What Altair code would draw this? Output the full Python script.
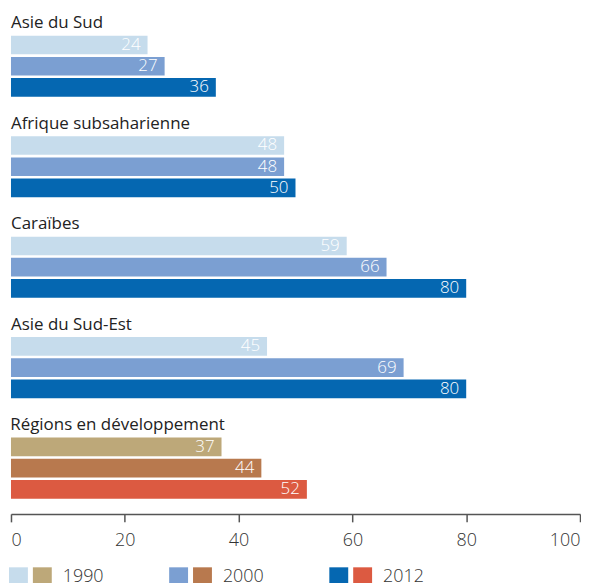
import altair as alt
import pandas as pd

groups = ["Asie du Sud", "Afrique subsaharienne", "Caraïbes", "Asie du Sud-Est", "Régions en développement"]
years = ["1990", "2000", "2012"]
v1990 = [24, 48, 59, 45, 37]
v2000 = [27, 48, 66, 69, 44]
v2012 = [36, 50, 80, 80, 52]
blue_colors = ["#c6dcec", "#7b9fd2", "#0567b1"]
brown_colors = ["#bda879", "#b8794e", "#dc5a41"]
x_ticks = [0, 20, 40, 60, 80, 100]

FONT = "Open Sans"
W = 572

rows = []
for gi, g in enumerate(groups):
    palette = brown_colors if gi == len(groups) - 1 else blue_colors
    for yi, (yr, vals) in enumerate(zip(years, [v1990, v2000, v2012])):
        rows.append({"group": g, "year": yr, "value": vals[gi], "color": palette[yi]})
df = pd.DataFrame(rows)

legend_df = pd.DataFrame({"year": years, "c1": blue_colors, "c2": brown_colors})


def group_chart(g, last):
    base = alt.Chart(df).transform_filter(alt.datum.group == g)
    if last:
        xaxis = alt.Axis(values=x_ticks, title=None, grid=False, offset=14,
                         domainColor="#555555", domainWidth=1.5, tickColor="#555555",
                         tickWidth=1.5, tickSize=8, labelPadding=10, labelFontSize=18,
                         labelFont=FONT, labelFontWeight=300, labelColor="#333333")
    else:
        xaxis = None
    x = alt.X("value:Q", scale=alt.Scale(domain=[0, 100]), axis=xaxis)
    y = alt.Y("year:N", sort=years, axis=None,
              scale=alt.Scale(paddingInner=0.12, paddingOuter=0.06))
    bars = base.mark_bar().encode(x=x, y=y, color=alt.Color("color:N", scale=None))
    labels = base.mark_text(align="right", baseline="middle", dx=-7, color="white",
                            font=FONT, fontSize=17, fontWeight=300).encode(
        x=alt.X("value:Q"), y=y, text=alt.Text("value:Q"))
    return (bars + labels).properties(
        width=W, height=64,
        title=alt.TitleParams(g, anchor="start", fontSize=17, font=FONT,
                              fontWeight="normal", color="#222222", offset=2))


charts = [group_chart(g, i == len(groups) - 1) for i, g in enumerate(groups)]

lbase = alt.Chart(legend_df)
lx = alt.X("year:O", sort=years, axis=None,
           scale=alt.Scale(type="point", padding=0))
sq1 = lbase.mark_square(size=361, opacity=1, xOffset=7.5).encode(
    x=lx, y=alt.value(10.2), fill=alt.Fill("c1:N", scale=None))
sq2 = lbase.mark_square(size=361, opacity=1, xOffset=31.5).encode(
    x=lx, y=alt.value(10.2), fill=alt.Fill("c2:N", scale=None))
ltxt = lbase.mark_text(align="left", baseline="alphabetic", dx=52, font=FONT,
                       fontSize=18, fontWeight=300, color="#333333").encode(
    x=lx, y=alt.value(15.3), text="year:N")
legend = (sq1 + sq2 + ltxt).properties(width=322, height=30)

chart = alt.vconcat(*charts, legend, spacing=17).properties(
    padding={"left": 1, "top": 5, "right": 0, "bottom": 0}
).configure_view(stroke=None)

chart.save("out.html", embed_options={"renderer": "svg", "actions": False})
